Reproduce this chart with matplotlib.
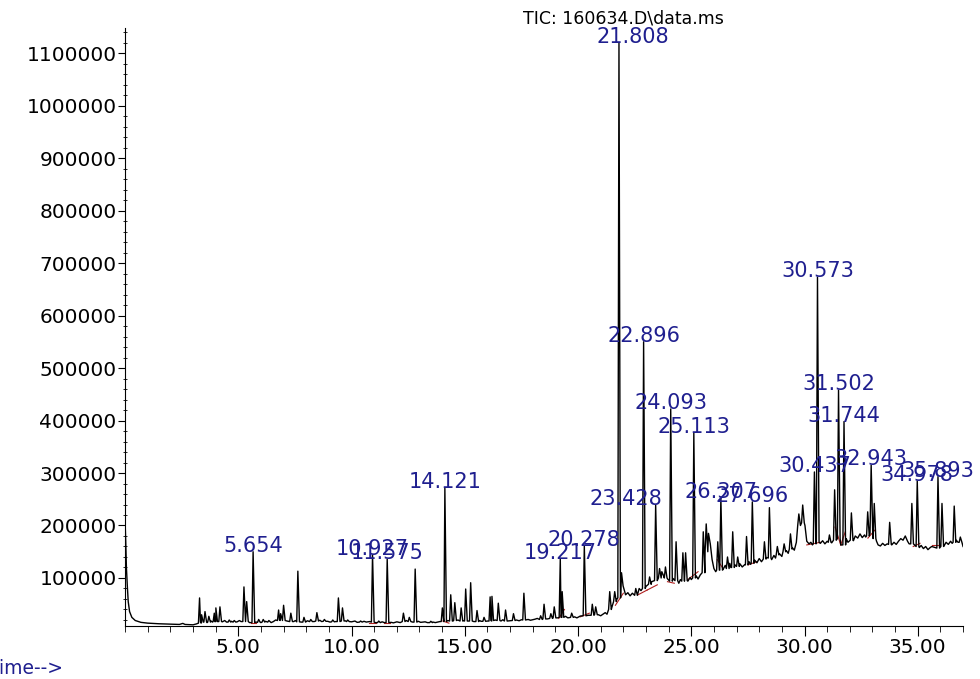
import numpy as np
import matplotlib
matplotlib.use("Agg")
import matplotlib.pyplot as plt
from matplotlib.ticker import MultipleLocator, FixedLocator

# background trace (between peaks): retention time (min), abundance
bg_rt = [0.00, 0.03, 0.06, 0.10, 0.14, 0.20, 0.30, 0.45, 0.70, 1.00, 1.50, 2.00,
         2.40, 2.55, 2.65, 3.00, 3.15, 3.45, 3.62, 3.80, 3.86, 4.30, 4.40, 4.48,
         4.70, 4.95, 5.05, 5.12, 5.50, 5.78, 6.00, 6.20, 6.45, 6.55, 6.65, 7.15,
         7.45, 7.52, 7.78, 8.05, 8.35, 8.60, 8.68, 8.95, 9.05, 9.30, 9.72, 10.00,
         10.15, 10.25, 10.55, 10.65, 10.80, 11.05, 11.35, 11.45, 11.75, 11.85,
         12.00, 12.15, 12.42, 12.70, 12.95, 13.05, 13.25, 13.35, 13.60, 13.70,
         13.90, 14.25, 14.48, 14.70, 14.95, 15.40, 15.65, 15.72, 16.00, 16.35,
         16.60, 16.68, 17.00, 17.28, 17.40, 17.50, 17.80, 17.90, 18.10, 18.20,
         18.65, 19.10, 19.45, 19.55, 19.85, 19.95, 20.10, 20.45, 20.90, 21.00,
         21.20, 21.28, 21.50, 21.72,
         22.10, 22.20, 22.30, 22.40, 22.70, 22.78, 23.00, 23.25, 23.70, 23.78,
         23.96, 24.20, 24.45, 24.52, 24.85, 24.95, 25.00, 25.22, 25.30, 25.40,
         25.76, 25.84, 25.92, 26.00, 26.08, 26.40, 26.50, 26.70, 26.75, 26.93,
         27.00, 27.15, 27.25, 27.35, 27.55, 27.62, 27.80, 27.90, 28.00, 28.10,
         28.32, 28.55, 28.65, 28.72, 28.90, 29.00, 29.20, 29.28, 29.48, 29.55,
         29.64, 30.02, 30.10, 30.20, 30.28, 30.35, 30.70, 30.80, 30.90, 31.00,
         31.20, 31.60, 31.84, 31.92, 32.00, 32.16, 32.24, 32.35, 32.45, 32.55,
         32.65, 32.70, 33.18, 33.25, 33.35, 33.45, 33.55, 33.65, 33.85, 33.95,
         34.05, 34.15, 34.25, 34.35, 34.45, 34.55, 34.62, 35.07, 35.15, 35.25,
         35.35, 35.45, 35.55, 35.62, 36.16, 36.25, 36.35, 36.45, 36.52, 36.70,
         36.78, 36.95, 37.00]
bg_tic = [210000, 170000, 120000, 85000, 55000, 36000, 25000, 19000, 15500, 14000,
          12800, 12000, 11500, 13500, 11500, 10800, 12500, 17000, 15000, 18000,
          16000, 16500, 19000, 16000, 17500, 16500, 19000, 17000, 15000, 16000,
          15000, 17500, 15000, 17000, 20000, 18000, 17000, 19000, 16000, 18500,
          17000, 19500, 17000, 17500, 16000, 17000, 18500, 16500, 18000, 15500,
          17500, 16000, 17000, 15000, 16500, 15000, 15500, 14500, 16500, 15000,
          19000, 16000, 17500, 15500, 16500, 15000, 16000, 15000, 17000, 19000,
          18000, 20000, 18500, 17000, 19000, 17500, 18000, 20000, 18000, 20500,
          18500, 20000, 18500, 20500, 21000, 19500, 21500, 23000, 22000, 24000,
          27000, 24000, 26000, 24000, 27500, 29000, 30000, 28000, 34000, 31000,
          45000, 60000,
          68000, 72000, 66000, 71000, 80000, 76000, 84000, 93000, 112000, 104000,
          98000, 99000, 90000, 97000, 94000, 101000, 97000, 104000, 98000, 106000,
          185000, 165000, 135000, 118000, 112000, 116000, 124000, 128000, 120000, 125000,
          119000, 127000, 121000, 125000, 131000, 126000, 134000, 129000, 137000, 131000,
          139000, 135000, 143000, 138000, 146000, 141000, 152000, 147000, 157000, 153000,
          168000, 200000, 170000, 165000, 168000, 163000, 166000, 171000, 165000, 170000,
          167000, 163000, 175000, 168000, 175000, 171000, 180000, 176000, 184000, 177000,
          182000, 178000, 170000, 163000, 161000, 166000, 162000, 165000, 163000, 168000,
          164000, 170000, 175000, 172000, 180000, 170000, 165000, 158000, 162000, 156000,
          160000, 154000, 158000, 160000, 161000, 168000, 164000, 170000, 166000, 172000,
          168000, 174000, 160000]

# peaks: apex time, apex abundance, local base level
peak_rt = [3.29, 3.38, 3.53, 3.70, 3.94, 4.01, 4.19, 4.60, 4.82, 5.25, 5.37, 5.654,
           5.90, 6.10, 6.35, 6.78, 6.87, 7.00, 7.32, 7.63, 7.90, 8.20, 8.47, 8.80,
           9.17, 9.42, 9.60, 9.83, 10.40, 10.927, 11.20, 11.575, 12.29, 12.55, 12.81,
           13.50, 14.01, 14.121, 14.38, 14.56, 14.84, 15.04, 15.26, 15.54, 15.85,
           16.12, 16.20, 16.48, 16.80, 17.15, 17.61, 18.35, 18.50, 18.80, 18.95,
           19.217, 19.30, 19.72, 20.278, 20.63, 20.78, 21.40, 21.62, 21.808, 21.92,
           22.55, 22.896, 23.16, 23.428, 23.60, 23.86, 24.093, 24.33, 24.63, 24.75,
           25.113, 25.53, 25.66, 26.17, 26.307, 26.60, 26.83, 27.05, 27.44, 27.696,
           28.23, 28.45, 28.80, 29.10, 29.38, 29.75, 29.92, 30.437, 30.573, 31.10,
           31.33, 31.502, 31.744, 32.07, 32.79, 32.943, 33.08, 33.76, 34.74, 34.978,
           35.893, 36.07, 36.61, 36.88]
peak_top = [62000, 30000, 36000, 27000, 33000, 43000, 45000, 20000, 19000, 83000,
            55000, 150000, 21000, 21000, 19000, 39000, 32000, 48000, 33000, 113000,
            25000, 21000, 34000, 21000, 20000, 62000, 43000, 20000, 18000, 144000,
            18000, 136000, 33000, 25000, 117000, 17500, 43000, 271000, 68000, 53000,
            43000, 79000, 91000, 38000, 25000, 64000, 65000, 52000, 39000, 32000,
            71000, 28000, 50000, 32000, 45000, 136000, 74000, 33000, 161000, 50000,
            45000, 74000, 74000, 1120000, 110000, 80000, 550000, 102000, 239000,
            118000, 121000, 422000, 169000, 148000, 148000, 376000, 188000, 203000,
            169000, 252000, 140000, 188000, 140000, 179000, 245000, 169000, 234000,
            160000, 165000, 184000, 222000, 239000, 302000, 673000, 182000, 268000,
            458000, 398000, 224000, 226000, 315000, 242000, 206000, 242000, 285000,
            293000, 242000, 237000, 178000]
peak_base = [14000, 16000, 16000, 16000, 17000, 17000, 17000, 16000, 16000, 17000,
             17000, 15000, 15500, 16000, 16000, 19000, 20000, 19000, 17000, 16500,
             16000, 17000, 18000, 17500, 16500, 17000, 18000, 17000, 16000, 16000,
             15000, 15000, 17000, 17000, 16000, 15000, 17000, 17000, 18000, 19000,
             18000, 18000, 18000, 17000, 17500, 18000, 19000, 19000, 18000, 19000,
             20000, 21000, 22000, 23000, 24000, 25000, 25000, 25000, 28000, 29000,
             30000, 40000, 55000, 62000, 85000, 67000, 80000, 88000, 95000, 100000,
             100000, 94000, 95000, 94000, 95000, 100000, 110000, 150000, 115000,
             115000, 118000, 120000, 122000, 125000, 128000, 136000, 138000, 144000,
             150000, 155000, 200000, 205000, 165000, 168000, 168000, 172000, 175000,
             163000, 172000, 180000, 185000, 175000, 164000, 165000, 160000, 157000,
             160000, 168000, 168000]

# labelled peaks
label_rt = ["5.654", "10.927", "11.575", "14.121", "19.217", "20.278", "21.808",
            "22.896", "23.428", "24.093", "25.113", "26.307", "27.696", "30.437",
            "30.573", "31.502", "31.744", "32.943", "34.978", "35.893"]
label_dx = {"21.808": 0.6, "23.428": -1.33}

# integration baselines (red)
int_t0 = [5.56, 10.75, 11.45, 14.03, 19.15, 20.10, 21.65, 22.65, 23.05, 23.95,
          24.85, 26.15, 27.50, 30.10, 31.35, 31.60, 32.80, 34.80, 35.65]
int_i0 = [13500, 14000, 14000, 18000, 23000, 26000, 48000, 68000, 77000, 93000,
          97000, 135000, 125000, 163000, 197000, 163000, 176000, 160000, 163000]
int_t1 = [5.78, 11.10, 11.70, 14.30, 19.40, 20.50, 22.00, 23.05, 23.50, 24.25,
          25.30, 26.40, 27.90, 30.70, 31.60, 31.80, 33.10, 35.10, 36.00]
int_i1 = [13500, 14000, 14000, 14000, 40000, 33000, 71000, 77000, 87000, 90000,
          112000, 118000, 131000, 168000, 163000, 188000, 191000, 166000, 163000]

BLUE = "#1f1f8f"
plt.rcParams["font.family"] = ["DejaVu Sans"]

# assemble the trace
w_l, w_r = 0.05, 0.07
pk = np.array(peak_rt)
pts = [(t, v) for t, v in zip(bg_rt, bg_tic) if np.min(np.abs(pk - t)) > 0.075]
for t, h, b in zip(peak_rt, peak_top, peak_base):
    pts += [(t - w_l, b), (t, h), (t + w_r, b)]
pts.sort()
trace_t = [p[0] for p in pts]
trace_i = [p[1] for p in pts]

fig = plt.figure(figsize=(9.8, 6.79), dpi=100)
ax = fig.add_axes([0.1276, 0.0781, 0.8551, 0.8807])

for a, b, c, d in zip(int_t0, int_i0, int_t1, int_i1):
    ax.plot([a, c], [b, d], color="#b02020", lw=0.8, zorder=1)
ax.plot(trace_t, trace_i, color="black", lw=1.0, zorder=2)

for s in label_rt:
    k = int(np.argmin(np.abs(pk - float(s))))
    ax.text(peak_rt[k] + label_dx.get(s, 0), peak_top[k], s, color=BLUE,
            fontsize=15, ha="center", va="baseline", zorder=3)

ax.set_xlim(0, 37.0)
ax.set_ylim(8600, 1147800)
for side in ["top", "right"]:
    ax.spines[side].set_visible(False)
ax.xaxis.set_major_locator(FixedLocator([5, 10, 15, 20, 25, 30, 35]))
ax.xaxis.set_minor_locator(MultipleLocator(1))
ax.set_xticklabels(["%.2f" % v for v in [5, 10, 15, 20, 25, 30, 35]])
ax.yaxis.set_major_locator(FixedLocator(range(100000, 1100001, 100000)))
ax.yaxis.set_minor_locator(MultipleLocator(20000))
ax.set_yticklabels([str(v) for v in range(100000, 1100001, 100000)])
ax.tick_params(axis="x", which="major", direction="out", length=7, labelsize=14.5, pad=2)
ax.tick_params(axis="x", which="minor", direction="out", length=4)
ax.tick_params(axis="y", which="major", direction="out", length=5, labelsize=14.5, pad=1)
ax.tick_params(axis="y", which="minor", direction="inout", length=3)

fig.text(0.636, 0.973, "TIC: 160634.D\\data.ms", ha="center", va="center", fontsize=12.5)
fig.text(-0.012, 0.016, "Time-->", ha="left", va="center", fontsize=13.5, color=BLUE)

fig.savefig("out.png", dpi=100)
